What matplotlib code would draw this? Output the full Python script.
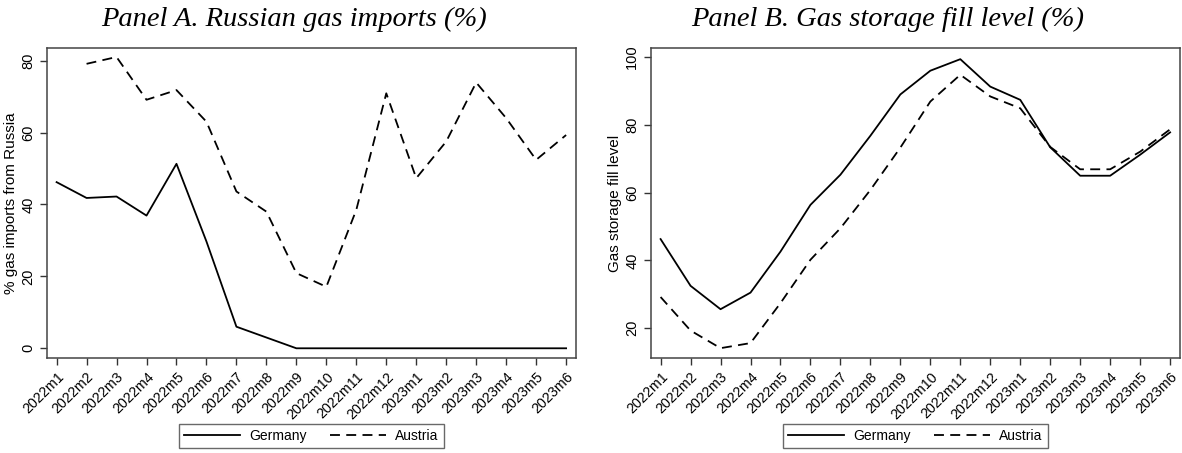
import numpy as np
import matplotlib.pyplot as plt

months = ["2022m1", "2022m2", "2022m3", "2022m4", "2022m5", "2022m6",
          "2022m7", "2022m8", "2022m9", "2022m10", "2022m11", "2022m12",
          "2023m1", "2023m2", "2023m3", "2023m4", "2023m5", "2023m6"]

# Share of gas imports from Russia (%)
imports_germany = [46.2, 41.8, 42.2, 36.9, 51.3, 29.7, 6.0, 3.0, 0, 0, 0, 0,
                   0, 0, 0, 0, 0, 0]
imports_austria = [np.nan, 79.1, 81.0, 69.1, 71.8, 63.0, 43.6, 38.0, 20.9, 17.1,
                   38.5, 70.9, 47.3, 57.5, 73.9, 64.0, 52.4, 59.3]

# Gas storage fill level (%)
storage_germany = [46.3, 32.5, 25.6, 30.5, 42.6, 56.4, 65.3, 76.8, 89.0, 96.0,
                   99.4, 91.3, 87.4, 73.4, 65.0, 65.0, 71.2, 77.8]
storage_austria = [29.2, 19.3, 14.1, 15.6, 27.4, 40.2, 49.5, 60.8, 73.3, 86.9,
                   94.8, 88.4, 84.9, 73.5, 66.9, 66.9, 72.1, 78.7]

plt.rcParams['font.family'] = ['Liberation Sans', 'DejaVu Sans']

fig = plt.figure(figsize=(11.82, 4.53), dpi=100)
axA = fig.add_axes([47 / 1182, 95 / 453, 529 / 1182, 310 / 453])
axB = fig.add_axes([651 / 1182, 95 / 453, 529 / 1182, 310 / 453])

x = np.arange(len(months))
dash = (0, (5.5, 3.5))


def style(ax, yticks, ylim, ylabel, title, title_x, ger, aut):
    ax.plot(x, ger, color='black', lw=1.3, label='Germany')
    ax.plot(x, aut, color='black', lw=1.3, linestyle=dash, label='Austria')
    ax.set_xlim(-0.32, 17.33)
    ax.set_ylim(*ylim)
    ax.set_yticks(yticks)
    ax.set_yticklabels([str(t) for t in yticks], rotation=90, va='center',
                       fontsize=10.5)
    ax.set_xticks(x)
    ax.set_xticklabels(months, rotation=45, ha='right', rotation_mode='anchor',
                       fontsize=10.3)
    ax.tick_params(length=5, width=1, color='#333333')
    for s in ax.spines.values():
        s.set_color('#444444')
        s.set_linewidth(1.1)
    ax.set_ylabel(ylabel, fontsize=11, labelpad=2)
    fig.text(title_x, 1 - 26 / 453, title, fontsize=20.5,
             family=['Liberation Serif'], style='italic', ha='center',
             va='baseline')
    leg = ax.legend(loc='upper center', bbox_to_anchor=(0.5, -0.19), ncol=2,
                    frameon=True, fancybox=False, edgecolor='#444444',
                    fontsize=10, handlelength=4.0, columnspacing=1.65,
                    borderpad=0.35, handletextpad=0.7)
    leg.get_frame().set_linewidth(1.0)


style(axA, [0, 20, 40, 60, 80], (-2.7, 83.5), '% gas imports from Russia',
      'Panel A. Russian gas imports (%)', 294 / 1182,
      imports_germany, imports_austria)
style(axB, [20, 40, 60, 80, 100], (11.2, 102.7), 'Gas storage fill level',
      'Panel B. Gas storage fill level (%)', 888 / 1182,
      storage_germany, storage_austria)

fig.savefig('out.png', dpi=100)
